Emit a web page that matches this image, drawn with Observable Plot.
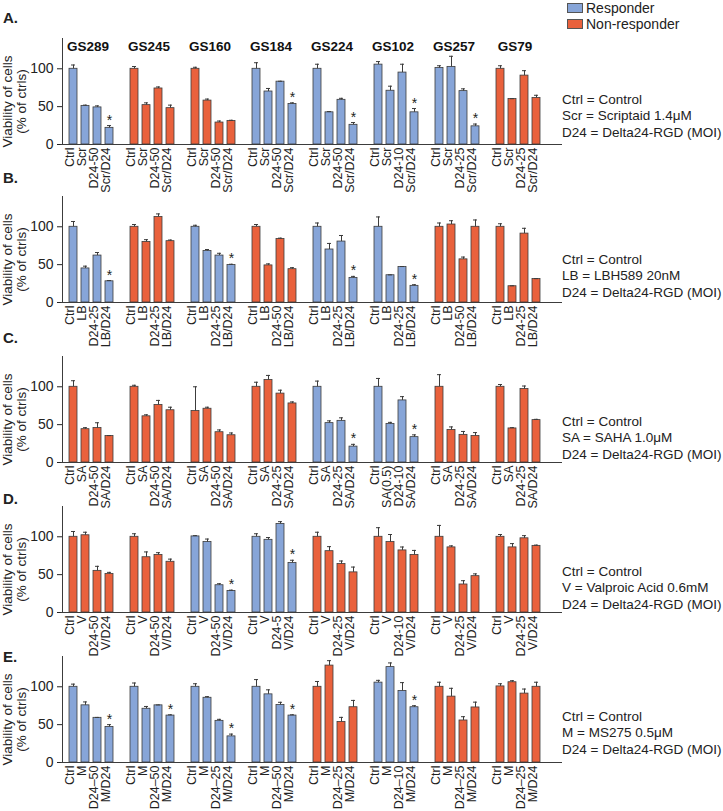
<!DOCTYPE html>
<html><head><meta charset="utf-8">
<script src="https://cdn.jsdelivr.net/npm/d3@7"></script>
<script src="https://cdn.jsdelivr.net/npm/@observablehq/plot@0.6"></script>
<style>
body{margin:0;background:#fff;}
#fig{position:relative;width:723px;height:811px;overflow:hidden;font-family:"Liberation Sans",Arial,Helvetica,sans-serif;color:#222;}
.abs{position:absolute;}
.letter{font-weight:bold;font-size:15px;line-height:16px;}
.note{font-size:13.5px;line-height:16.3px;white-space:nowrap;}
.leg{font-size:14px;line-height:16px;white-space:nowrap;}
.sw{position:absolute;width:14px;height:8px;border:1px solid #555;}
svg{overflow:visible;}
</style></head>
<body><div id="fig"></div>
<script>
const groups = ["GS289","GS245","GS160","GS184","GS224","GS102","GS257","GS79"];
const legendLabels = ["Responder","Non-responder"];
const legendColors = ["#87a5d8","#e9613c"];
const yTitle = "Viability of cells\n(% of ctrls)";
const yTicks = [0,50,100];

// Panel A (Scriptaid)
const labelsA = ["Ctrl","Scr","D24-50","Scr/D24","Ctrl","Scr","D24-50","Scr/D24","Ctrl","Scr","D24-50","Scr/D24","Ctrl","Scr","D24-50","Scr/D24","Ctrl","Scr","D24-50","Scr/D24","Ctrl","Scr","D24-10","Scr/D24","Ctrl","Scr","D24-25","Scr/D24","Ctrl","Scr","D24-25","Scr/D24"];
const valuesA = [100,51,49,22, 100,52,74,48, 100,58,29,31, 100,70,83,53.5, 100,42.5,59,26, 105.5,71,95,42.5, 101,102.5,70.5,24, 100,60,91,61.5];
const errorsA = [5,1,2,3, 3,3,2,4, 2,2,2,1, 8,4,0.5,1.5, 6,1,2,3, 4,6,11,5, 3,14,3,3, 4,0.5,6.5,3.5];
const responderA = [1,0,0,1,1,1,1,0];
const starsA = [3,15,19,23,27];
const notesA = ["Ctrl = Control","Scr = Scriptaid 1.4\u03bcM","D24 = Delta24-RGD (MOI)"];

// Panel B (LBH589)
const labelsB = ["Ctrl","LB","D24-25","LB/D24","Ctrl","LB","D24-25","LB/D24","Ctrl","LB","D24-25","LB/D24","Ctrl","LB","D24-50","LB/D24","Ctrl","LB","D24-25","LB/D24","Ctrl","LB","D24-25","LB/D24","Ctrl","LB","D24-50","LB/D24","Ctrl","LB","D24-25","LB/D24"];
const valuesB = [100,45,62,28, 100,80,113,81, 100,68,62,49.5, 100,49,84,44, 100,70,80.5,32.5, 100,36,47,22, 100,103,57,100, 100,21.5,91,31];
const errorsB = [7,3,4,1, 3,3,4,1.5, 2,2,3,1, 3,2,1,2, 5,8,8,2, 13,0.5,0.5,1.5, 5,5,3,9, 4,0.5,7,0.5];
const responderB = [1,0,1,0,1,1,0,0];
const starsB = [3,11,19,23];
const notesB = ["Ctrl = Control","LB = LBH589 20nM","D24 = Delta24-RGD (MOI)"];

// Panel C (SAHA)
const labelsC = ["Ctrl","SA","D24-50","SA/D24","Ctrl","SA","D24-50","SA/D24","Ctrl","SA","D24-50","SA/D24","Ctrl","SA","D24-25","SA/D24","Ctrl","SA","D24-25","SA/D24","Ctrl","SA(0.5)","D24-10","SA/D24","Ctrl","SA","D24-25","SA/D24","Ctrl","SA","D24-25","SA/D24"];
const valuesC = [100,44,45.5,35, 100,61,76,69, 68,71,40,36, 100,109,91,78, 100,52,55,21, 100,51,82,33.5, 100,43,36.5,35, 100,45,97,56];
const errorsC = [8,2,7,0.5, 2,2,6,4, 32,2,3,3, 6,6,4.5,2, 7.5,3,4,3, 11,2,5,3, 16,4,4.5,4.5, 3,1,4,1];
const responderC = [0,0,0,0,1,1,0,0];
const starsC = [19,23];
const notesC = ["Ctrl = Control","SA = SAHA 1.0\u03bcM","D24 = Delta24-RGD (MOI)"];

// Panel D (Valproic acid)
const labelsD = ["Ctrl","V","D24-50","V/D24","Ctrl","V","D24-50","V/D24","Ctrl","V","D24-50","V/D24","Ctrl","V","D24-5","V/D24","Ctrl","V","D24-25","V/D24","Ctrl","V","D24-10","V/D24","Ctrl","V","D24-25","V/D24","Ctrl","V","D24-25","V/D24"];
const valuesD = [100,102,55,51, 100,73,76,67, 100.5,93,36,28.5, 100,96,117,65.5, 100,81,64,53, 100,93,82,76, 100,86,37,48, 100,86,98,88];
const errorsD = [7,4,6,2, 4,7,3,3.5, 1,4,2,1, 4,3,3,3.5, 6,6,4,7, 12,10,4.5,6, 15,2,5,3, 3,5,3.5,1];
const responderD = [0,0,1,1,0,0,0,0];
const starsD = [11,15];
const notesD = ["Ctrl = Control","V = Valproic Acid 0.6mM","D24 = Delta24-RGD (MOI)"];

// Panel E (MS275)
const labelsE = ["Ctrl","M","D24\u201350","M/D24","Ctrl","M","D24\u201350","M/D24","Ctrl","M","D24\u201325","M/D24","Ctrl","M","D24\u201350","M/D24","Ctrl","M","D24\u201325","M/D24","Ctrl","M","D24\u201310","M/D24","Ctrl","M","D24\u201325","M/D24","Ctrl","M","D24\u201325","M/D24"];
const valuesE = [100,75.5,59,47, 100,71,75.5,62, 100,85.5,55,34.5, 100,90,76,62, 100,128,53.6,73, 105.5,126,94.5,73, 100,87,55.5,72.7, 100.5,106,91,100];
const errorsE = [3.5,4.5,0.5,3, 5,3,0.5,1, 4,1.5,2,3, 9.5,6,3.5,1, 7,6.5,6,9, 3,5.5,11,2, 6,11,5,7, 3.5,2,6,6];
const responderE = [1,1,1,1,0,1,0,0];
const starsE = [3,7,11,15,23];
const notesE = ["Ctrl = Control","M = MS275 0.5\u03bcM","D24 = Delta24-RGD (MOI)"];

const panelLetters = ["A.","B.","C.","D.","E."];

// layout
const W = 723, H = 176, MT = 10, MB = 60, ML = 62, MR = 155;
const zeroY = [144, 302, 462, 612, 762];
const letterY = [18, 178, 338, 499, 657];
const noteY = [100, 260, 422, 572, 717];
const panels = [
  {labels: labelsA, values: valuesA, errors: errorsA, responder: responderA, stars: starsA, notes: notesA, showGroups: true},
  {labels: labelsB, values: valuesB, errors: errorsB, responder: responderB, stars: starsB, notes: notesB},
  {labels: labelsC, values: valuesC, errors: errorsC, responder: responderC, stars: starsC, notes: notesC},
  {labels: labelsD, values: valuesD, errors: errorsD, responder: responderD, stars: starsD, notes: notesD},
  {labels: labelsE, values: valuesE, errors: errorsE, responder: responderE, stars: starsE, notes: notesE}
];

const ink = "#3c3c3c";
function makePanel(p) {
  const data = p.labels.map((label, i) => ({
    group: groups[Math.floor(i / 4)], slot: i % 4, label,
    value: p.values[i], err: p.errors[i],
    status: p.responder[Math.floor(i / 4)] ? legendLabels[0] : legendLabels[1],
    star: p.stars.includes(i)
  }));
  const marks = [
    Plot.frame({anchor: "left", facetAnchor: "left", stroke: ink}),
    Plot.axisY({ticks: yTicks, tickSize: 5, fontSize: 14, label: null}),
    Plot.barY(data, {fx: "group", x: "slot", y: "value", fill: "status", stroke: ink, strokeWidth: 0.8}),
    Plot.ruleX(data, {fx: "group", x: "slot", y1: "value", y2: d => d.value + d.err, stroke: ink}),
    Plot.tickY(data, {fx: "group", x: "slot", y: d => d.value + d.err, stroke: ink, insetLeft: 2, insetRight: 2}),
    Plot.ruleY([0], {stroke: ink, insetLeft: -1.5, insetRight: -1.5}),
    Plot.ruleY([0], {stroke: ink, facetAnchor: "right", insetRight: -14}),
    Plot.text(data.filter(d => d.star), {fx: "group", x: "slot", y: d => d.value + d.err, text: () => "*", lineAnchor: "bottom", dy: -1, fontSize: 14}),
    Plot.text(data, {fx: "group", x: "slot", y: () => 0, text: "label", rotate: -90, textAnchor: "end", lineAnchor: "middle", dx: -4, dy: 3, fontSize: 12.5, fill: "#222"}),
    Plot.text([yTitle], {frameAnchor: "left", facetAnchor: "left", rotate: -90, textAnchor: "middle", lineAnchor: "top", dx: -60, dy: 10, fontSize: 13.5, fill: "#222"})
  ];
  if (p.showGroups) marks.push(Plot.text(groups, {fx: d => d, text: d => d, frameAnchor: "top", textAnchor: "middle", lineAnchor: "middle", dy: 8, dx: -4, fontWeight: "bold", fontSize: 13.5, fill: "#111"}));
  return Plot.plot({
    width: W, height: H, marginTop: MT, marginBottom: MB, marginLeft: ML, marginRight: MR,
    style: {background: "transparent", fontFamily: "'Liberation Sans', Arial, Helvetica, sans-serif", fontSize: "13px", color: "#222", overflow: "visible"},
    fx: {domain: groups, axis: null, paddingInner: 0.028, paddingOuter: 0.114, align: 0},
    x: {type: "band", domain: [0, 1, 2, 3], axis: null, paddingInner: 0.308, paddingOuter: 0.46},
    y: {domain: [0, 140]},
    color: {domain: legendLabels, range: legendColors},
    marks
  });
}

const fig = document.getElementById("fig");
panels.forEach((p, k) => {
  const svg = makePanel(p);
  const wrap = document.createElement("div");
  wrap.className = "abs";
  wrap.style.left = "0px";
  wrap.style.top = (zeroY[k] - 106 - MT) + "px";
  wrap.appendChild(svg);
  fig.appendChild(wrap);

  const L = document.createElement("div");
  L.className = "abs letter";
  L.style.left = "3px";
  L.style.top = (letterY[k] - 8) + "px";
  L.textContent = panelLetters[k];
  fig.appendChild(L);

  const N = document.createElement("div");
  N.className = "abs note";
  N.style.left = "562px";
  N.style.top = (noteY[k] - 8) + "px";
  N.innerHTML = p.notes.map(t => `<div>${t}</div>`).join("");
  fig.appendChild(N);
});

legendLabels.forEach((t, i) => {
  const sw = document.createElement("div");
  sw.className = "sw";
  sw.style.left = "567px";
  sw.style.top = (3 + i * 16) + "px";
  sw.style.background = legendColors[i];
  fig.appendChild(sw);
  const lt = document.createElement("div");
  lt.className = "abs leg";
  lt.style.left = "586px";
  lt.style.top = (0 + i * 16) + "px";
  lt.textContent = t;
  fig.appendChild(lt);
});
</script>
</body></html>
